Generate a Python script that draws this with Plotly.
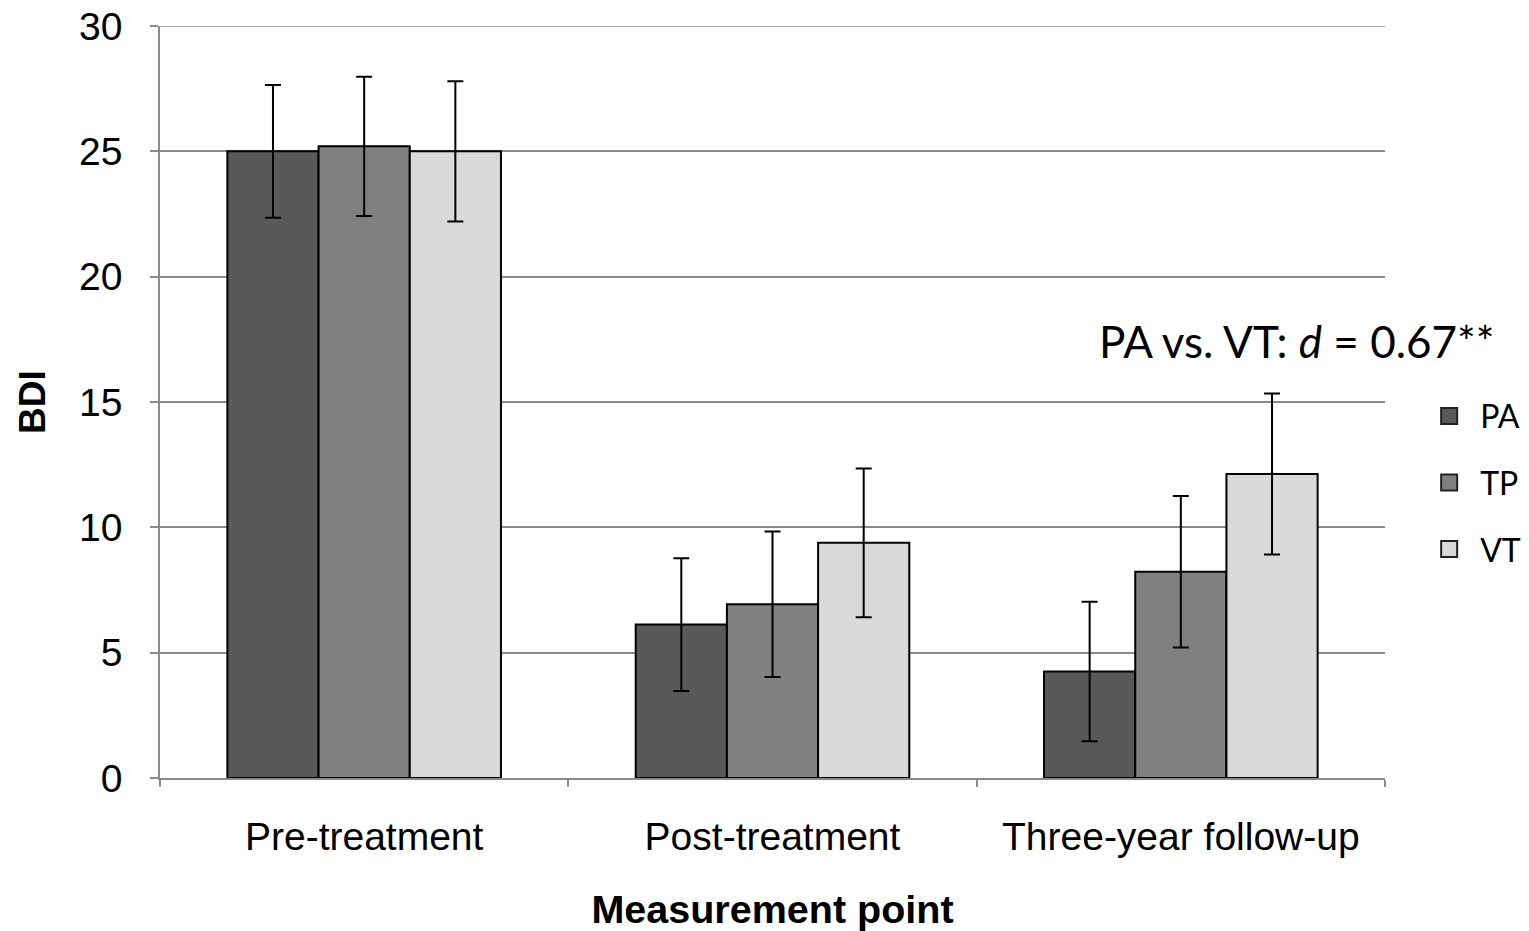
import plotly.graph_objects as go

categories = ["Pre-treatment", "Post-treatment", "Three-year follow-up"]
groups = ["PA", "TP", "VT"]
means = {
    "PA": [25.0, 6.12, 4.25],
    "TP": [25.2, 6.93, 8.23],
    "VT": [25.0, 9.38, 12.13],
}
errors = {
    "PA": [2.65, 2.65, 2.78],
    "TP": [2.78, 2.9, 3.02],
    "VT": [2.8, 2.97, 3.21],
}
colors = {"PA": "#595959", "TP": "#808080", "VT": "#d9d9d9"}
y_ticks = [0, 5, 10, 15, 20, 25, 30]
y_max = 30
annotation_text = "PA vs. VT: <i>d</i> = 0.67**"

AX_FONT = "Liberation Sans, Arial, sans-serif"
CAL_FONT = "Lato, Open Sans, sans-serif"
GRID = "#8a8a8a"

fig = go.Figure()
for g in groups:
    fig.add_trace(go.Bar(
        name=g, x=categories, y=means[g],
        marker=dict(color=colors[g], line=dict(color="black", width=2)),
        error_y=dict(type="data", array=errors[g], color="black", thickness=2, width=8),
        showlegend=False,
    ))
for g in groups:
    fig.add_trace(go.Scatter(
        name=g, x=[None], y=[None], mode="markers",
        marker=dict(symbol="square", size=20, color=colors[g], line=dict(color="#222222", width=2)),
        legendgroup=g, showlegend=True,
    ))

fig.add_shape(type="line", xref="paper", yref="y", x0=0, x1=1, y0=y_max, y1=y_max,
              line=dict(color=GRID, width=1.5), layer="below")

fig.update_layout(
    width=1529, height=931,
    margin=dict(l=160, r=144, t=26, b=153),
    paper_bgcolor="white", plot_bgcolor="white",
    barmode="group", bargap=0.33, bargroupgap=0,
    showlegend=True,
    legend=dict(
        xref="container", yref="container",
        x=0.9275, xanchor="left", y=0.5826, yanchor="top",
        font=dict(family=CAL_FONT, size=32, color="black"),
        tracegroupgap=22, itemsizing="trace", itemwidth=52,
        bgcolor="rgba(0,0,0,0)",
    ),
    xaxis=dict(
        type="category", tickson="boundaries", ticks="outside", ticklen=7,
        tickcolor=GRID, tickwidth=1.5, automargin=False,
        showline=True, linecolor=GRID, linewidth=1.5,
        showgrid=False,
        tickfont=dict(family=AX_FONT, size=39, color="black"),
        ticklabelstandoff=23,
        title=dict(text="<b>Measurement point</b>", font=dict(family=AX_FONT, size=39.5, color="black"), standoff=43),
    ),
    yaxis=dict(
        range=[0, y_max], tickvals=y_ticks, ticks="outside", ticklen=8,
        tickcolor=GRID, tickwidth=1.5, automargin=False,
        showline=True, linecolor=GRID, linewidth=1.5,
        showgrid=True, gridcolor=GRID, gridwidth=1.5, zeroline=False,
        tickfont=dict(family=AX_FONT, size=39, color="black"),
        ticklabelstandoff=20,
        title=dict(text="<b>BDI</b>", font=dict(family=AX_FONT, size=37, color="black"), standoff=22),
    ),
    annotations=[dict(
        text=annotation_text, xref="paper", yref="y", x=0.928, y=17.45,
        showarrow=False, font=dict(family=CAL_FONT, size=44, color="black"),
        xanchor="center", yanchor="middle",
    )],
)

fig.write_html("out.html")
